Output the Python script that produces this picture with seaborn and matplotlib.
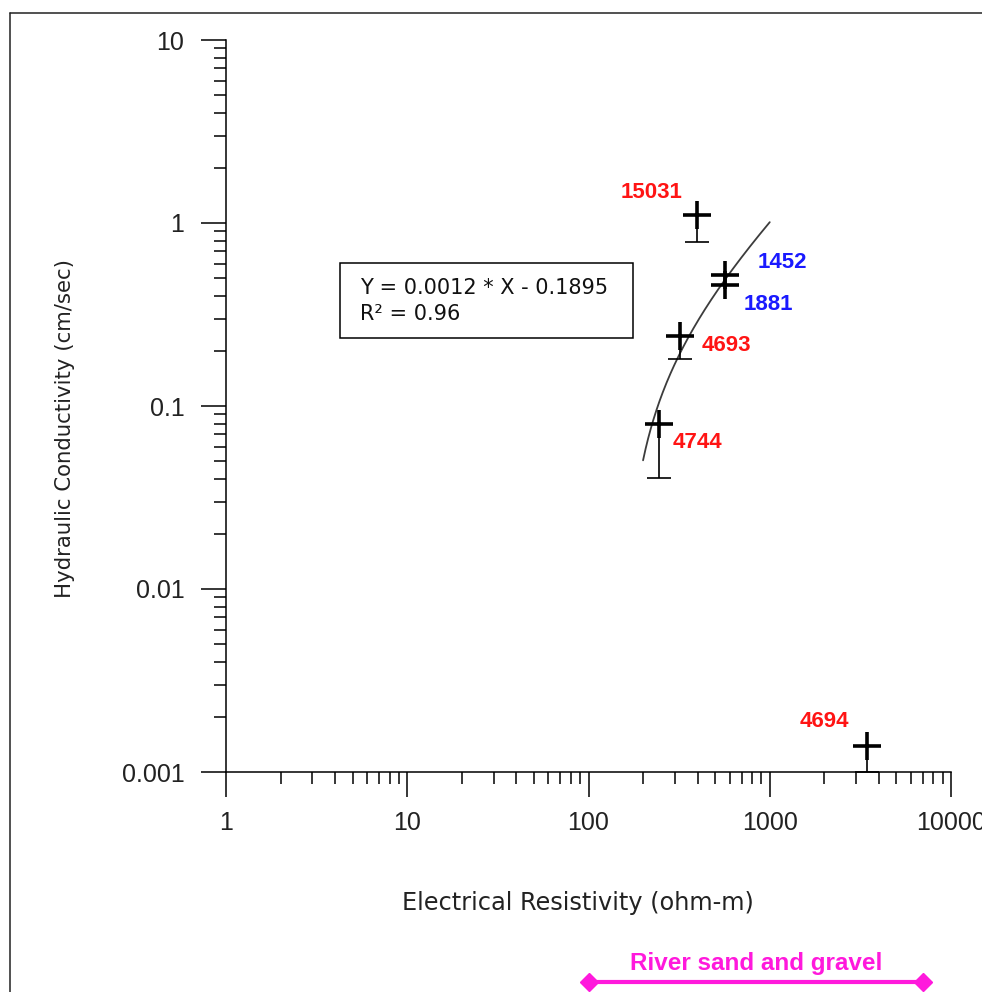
import numpy as np
import pandas as pd
import matplotlib
matplotlib.use("Agg")
import matplotlib.pyplot as plt
from matplotlib.lines import Line2D
from matplotlib.patches import Rectangle
from matplotlib.ticker import LogLocator, NullFormatter
from matplotlib.transforms import blended_transform_factory
import seaborn as sns

# Well samples: electrical resistivity (ohm-m) vs hydraulic conductivity (cm/sec)
well_ids = ["15031", "1452", "1881", "4693", "4744", "4694"]
resistivity = [396, 566, 566, 320, 245, 3430]
conductivity = [1.10, 0.52, 0.458, 0.241, 0.0794, 0.00139]
conductivity_low = [0.79, 0.52, 0.458, 0.181, 0.0406, 0.001]
well_group = ["red", "blue", "blue", "red", "red", "red"]

# Linear fit reported for the samples
fit_slope = 0.0012
fit_intercept = -0.1895
fit_r2 = 0.96
fit_x_range = (200, 1000)

# Resistivity range typical of river sand and gravel
sand_gravel_range = (100, 7000)

x_ticks = [1, 10, 100, 1000, 10000]
x_tick_labels = ["1", "10", "100", "1000", "10000"]
y_ticks = [0.001, 0.01, 0.1, 1, 10]
y_tick_labels = ["0.001", "0.01", "0.1", "1", "10"]

group_colors = {"red": "#ff1414", "blue": "#1a1aff"}
magenta = "#ff19dc"

# label placement relative to each marker: (dx, dy) in pixels, alignment
label_place = {
    "15031": (-14, 17, "right"),
    "1452": (33, 7, "left"),
    "1881": (19, -25, "left"),
    "4693": (22, -15, "left"),
    "4744": (14, -24, "left"),
    "4694": (-18, 19, "right"),
}

sns.set_style("ticks")
plt.rcParams["font.family"] = ["DejaVu Sans"]

df = pd.DataFrame({
    "well": well_ids,
    "resistivity": resistivity,
    "conductivity": conductivity,
    "conductivity_low": conductivity_low,
    "group": well_group,
})

fig = plt.figure(figsize=(9.82, 9.92), dpi=100)
ax = fig.add_axes([226 / 982, 220 / 992, 725 / 982, 732 / 992])
ax.set_xscale("log")
ax.set_yscale("log")

# fitted line from the reported equation
x_fit = np.logspace(np.log10(fit_x_range[0]), np.log10(fit_x_range[1]), 200)
y_fit = fit_slope * x_fit + fit_intercept
sns.lineplot(x=x_fit, y=y_fit, ax=ax, color="#3c3c3c", linewidth=1.3,
             errorbar=None, zorder=2)

# lower error bars
lower_err = df["conductivity"] - df["conductivity_low"]
ax.errorbar(df["resistivity"], df["conductivity"],
            yerr=[lower_err, np.zeros(len(df))], fmt="none",
            ecolor="black", elinewidth=1.2, capsize=8.3, capthick=1.2,
            zorder=3)

# sample markers
sns.scatterplot(data=df, x="resistivity", y="conductivity", marker="+",
                s=20.5 ** 2, linewidth=2.6, color="black", ax=ax,
                legend=False, zorder=4)

for wid, xv, yv, grp in zip(df["well"], df["resistivity"],
                            df["conductivity"], df["group"]):
    dx, dy, ha = label_place[wid]
    ax.annotate(wid, (xv, yv), xytext=(dx, dy), textcoords="offset pixels",
                ha=ha, va="baseline", color=group_colors[grp],
                fontsize=16, fontweight="bold", family="Liberation Sans")

# equation box
ax.add_patch(Rectangle((0.1572, 0.5929), 0.404, 0.1025,
                       transform=ax.transAxes, fill=False,
                       edgecolor="black", linewidth=1.1, zorder=5))
ax.text(0.1848, 0.653, f"Y = {fit_slope} * X - {abs(fit_intercept)}",
        transform=ax.transAxes, ha="left", va="baseline", fontsize=15,
        color="#111111")
ax.text(0.1848, 0.617, f"R\u00b2 = {fit_r2}",
        transform=ax.transAxes, ha="left", va="baseline", fontsize=15,
        color="#111111")

# axes, ticks and labels
ax.set_xlim(x_ticks[0], x_ticks[-1])
ax.set_ylim(y_ticks[0], y_ticks[-1])
ax.set_xticks(x_ticks, labels=x_tick_labels, fontfamily="Liberation Sans",
              fontsize=18, color="#222222")
ax.set_yticks(y_ticks, labels=y_tick_labels, fontfamily="Liberation Sans",
              fontsize=18, color="#222222")
for axis in (ax.xaxis, ax.yaxis):
    axis.set_minor_locator(LogLocator(base=10, subs=np.arange(2, 10),
                                      numticks=20))
    axis.set_minor_formatter(NullFormatter())
ax.tick_params(which="both", bottom=True, left=True, top=False, right=False)
ax.tick_params(which="major", direction="out", length=18, width=1.1,
               color="black")
ax.tick_params(which="minor", direction="out", length=8.6, width=1.1,
               color="black")
ax.tick_params(axis="x", which="major", pad=10)
ax.tick_params(axis="y", which="major", pad=12)

sns.despine(ax=ax)
for side in ("left", "bottom"):
    ax.spines[side].set_color("black")
    ax.spines[side].set_linewidth(1.1)
ax.grid(False)

ax.set_xlabel("Electrical Resistivity (ohm-m)", fontsize=17.3,
              color="#222222", va="baseline")
ax.xaxis.set_label_coords(0.4855, -0.1885)
ax.set_ylabel("Hydraulic Conductivity (cm/sec)", fontsize=15.3,
              color="#222222", va="center", ha="center")
ax.yaxis.set_label_coords(-0.222, 0.4686)

# river sand and gravel range indicator below the axis
trans = blended_transform_factory(ax.transData, ax.transAxes)
ax.plot(sand_gravel_range, [-0.2873, -0.2873], transform=trans,
        color=magenta, linewidth=3, marker="D", markersize=9,
        clip_on=False)
ax.text(np.sqrt(sand_gravel_range[0] * sand_gravel_range[1]), -0.2705,
        "River sand and gravel", transform=trans, ha="center",
        va="baseline", color=magenta, fontsize=17.5, fontweight="bold",
        family="Liberation Sans")

# outer frame
fx, fy = 10 / 982, 1 - 13 / 992
fig.add_artist(Line2D([fx, fx], [0, fy], transform=fig.transFigure,
                      color="#222222", linewidth=1.1))
fig.add_artist(Line2D([fx, 1], [fy, fy], transform=fig.transFigure,
                      color="#222222", linewidth=1.1))

fig.savefig("out.png", dpi=100)
